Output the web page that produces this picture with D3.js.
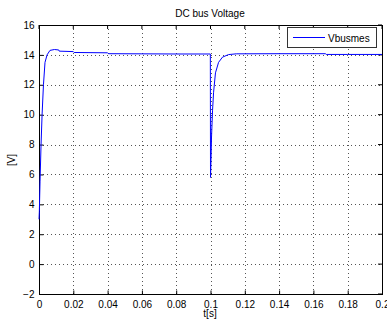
<!DOCTYPE html>
<html><head><meta charset="utf-8">
<script src="https://cdn.jsdelivr.net/npm/d3@7"></script>
<style>body{margin:0;background:#fff}svg{display:block}text{font-family:"Liberation Sans",Arial,sans-serif;fill:#000}</style>
</head><body><svg id="c" width="387" height="322"></svg>
<script>
const time = [0,0.0002,0.0006,0.0012,0.0018,0.0026,0.0035,0.0047,0.0064,0.009,0.0115,0.0118,0.02,0.0205,0.04,0.0405,0.06,0.08,0.0999,0.1,0.1003,0.1006,0.1012,0.1018,0.1029,0.1047,0.107,0.1105,0.115,0.14,0.167,0.1675,0.18,0.2];
const vbus = [3.0,3.5,5.5,8.0,10.0,12.0,13.5,14.0,14.3,14.36,14.33,14.25,14.22,14.16,14.14,14.08,14.07,14.06,14.06,5.8,7.0,8.5,10.3,11.5,12.8,13.5,13.85,14.02,14.07,14.08,14.08,14.03,14.03,14.03];
const xTicks = [0,0.02,0.04,0.06,0.08,0.1,0.12,0.14,0.16,0.18,0.2];
const yTicks = [-2,0,2,4,6,8,10,12,14,16];

const svg = d3.select("#c");
const L=39,R=382,T=25,B=294;
const x = d3.scaleLinear().domain([0,0.2]).range([L,R]);
const y = d3.scaleLinear().domain([-2,16]).range([B,T]);

// grid
const g = svg.append("g");
g.selectAll(".gx").data(xTicks.slice(1,-1)).enter().append("line")
 .attr("x1",d=>Math.round(x(d))+0.5).attr("x2",d=>Math.round(x(d))+0.5).attr("y1",T).attr("y2",B)
 .attr("stroke","#555").attr("stroke-width",1).attr("stroke-dasharray","1,3");
g.selectAll(".gy").data(yTicks.slice(1,-1)).enter().append("line")
 .attr("y1",d=>Math.round(y(d))+0.5).attr("y2",d=>Math.round(y(d))+0.5).attr("x1",L).attr("x2",R)
 .attr("stroke","#555").attr("stroke-width",1).attr("stroke-dasharray","1,3");

// axes
const xa = svg.append("g").attr("transform",`translate(0,${B+0.5})`)
 .call(d3.axisBottom(x).tickValues(xTicks).tickSize(-4).tickPadding(6).tickFormat(d=>d===0?"0":d3.format("")(+d.toFixed(2))));
const ya = svg.append("g").attr("transform",`translate(${L+0.5},0)`)
 .call(d3.axisLeft(y).tickValues(yTicks).tickSize(-4).tickPadding(5));
[xa,ya].forEach(a=>{a.select(".domain").remove();a.selectAll("text").style("font-size","10px").style("font-family","'Liberation Sans',Arial,sans-serif");a.selectAll("line").attr("stroke","#000");});
// top/right ticks
svg.append("g").selectAll("line").data(xTicks).enter().append("line")
 .attr("x1",d=>x(d)).attr("x2",d=>x(d)).attr("y1",T).attr("y2",T+4).attr("stroke","#000");
svg.append("g").selectAll("line").data(yTicks).enter().append("line")
 .attr("y1",d=>y(d)).attr("y2",d=>y(d)).attr("x1",R-4).attr("x2",R).attr("stroke","#000");
svg.append("rect").attr("x",L+0.5).attr("y",T+0.5).attr("width",R-L).attr("height",B-T)
 .attr("fill","none").attr("stroke","#000");

// line
svg.append("path").datum(time.map((t,i)=>[t,vbus[i]]))
 .attr("d",d3.line().x(d=>x(d[0])).y(d=>y(d[1])))
 .attr("fill","none").attr("stroke","#0000ff").attr("stroke-width",1);

// labels
svg.append("text").attr("x",210).attr("y",17).attr("text-anchor","middle").style("font-size","10px").text("DC bus Voltage");
svg.append("text").attr("x",210).attr("y",317).attr("text-anchor","middle").style("font-size","10px").text("t[s]");
svg.append("text").attr("transform","translate(15,160) rotate(-90)").attr("text-anchor","middle").style("font-size","10px").text("[V]");

// legend
svg.append("rect").attr("x",287.5).attr("y",27.5).attr("width",89).attr("height",20).attr("fill","#fff").attr("stroke","#333");
svg.append("line").attr("x1",293).attr("x2",325).attr("y1",37.5).attr("y2",37.5).attr("stroke","#0000ff");
svg.append("text").attr("x",328).attr("y",41.5).style("font-size","10px").text("Vbusmes");
</script></body></html>
